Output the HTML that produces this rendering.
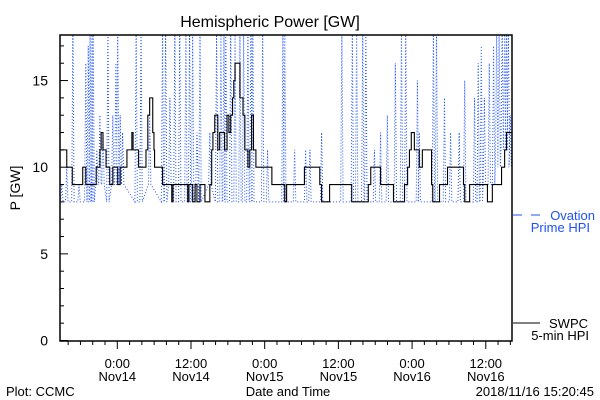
<!DOCTYPE html>
<html><head><meta charset="utf-8"><style>
body{margin:0;background:#fff}
svg{display:block;font-family:"Liberation Sans",sans-serif}
</style></head><body>
<svg id="chart" width="600" height="400" viewBox="0 0 600 400">
<text x="270" y="27" font-size="16" text-anchor="middle">Hemispheric Power [GW]</text>
<defs><clipPath id="pc"><rect x="60" y="35" width="452" height="306"/></clipPath></defs>
<g id="yaxis"></g>
<g id="xaxis"></g>
<g id="series" clip-path="url(#pc)"></g>
<rect x="60" y="35" width="452" height="306" fill="none" stroke="#000" stroke-width="1.5"/>
<text x="20" y="188" font-size="14" text-anchor="middle" transform="rotate(-90 20 188)">P [GW]</text>
<text x="288" y="396" font-size="13" text-anchor="middle">Date and Time</text>
<text x="6" y="396" font-size="13">Plot: CCMC</text>
<text x="594" y="396" font-size="13" text-anchor="end">2018/11/16 15:20:45</text>
<g>
<line x1="513" y1="215" x2="540" y2="215" stroke="#1e50ff" stroke-dasharray="9,9" stroke-width="1"/>
<text x="595" y="220" font-size="13" fill="#1e50ff" text-anchor="end">Ovation</text>
<text x="590" y="232" font-size="13" fill="#1e50ff" text-anchor="end">Prime HPI</text>
</g>
<g>
<line x1="513" y1="323" x2="540" y2="323" stroke="#000" stroke-width="1"/>
<text x="588" y="328" font-size="13" text-anchor="end">SWPC</text>
<text x="589" y="340" font-size="13" text-anchor="end">5-min HPI</text>
</g>
</svg>
<script>
// hours since 2018-11-13 14:40
const swpcT=[0,1.1,2.0,3.7,4.2,5.9,6.5,6.7,7.0,7.5,8.1,8.6,9.4,9.8,10.9,11.7,11.9,12.8,14.0,14.3,14.6,15.1,15.3,15.4,16.7,18.2,18.4,20.8,21.0,21.6,22.0,22.3,22.8,23.6,24.4,24.7,24.9,25.2,25.7,26.0,26.8,27.2,27.5,27.8,28.1,28.3,28.5,29.3,29.8,30.1,30.6,30.9,31.2,31.5,31.9,34.5,36.6,36.9,39.8,42.3,42.6,43.9,47.5,50.2,50.6,52.2,54.3,56.1,56.6,56.9,57.2,57.7,58.5,59.0,60.5,60.7,61.8,63.1,65.7,65.9,66.7,69.6,70.4,71.9,72.4,72.7];
const swpcV=[11,10,9,10,9,10,11,12,11,10,9,10,9,10,11,12,11,10,11,13,14,12,11,10,9,8,9,8,9,8,9,8,9,8,9,11,12,13,11,12,11,13,12,13,14,15,16,14,13,11,10,11,13,11,10,9,8,9,10,9,8,9,8,9,10,9,8,9,10,11,12,11,10,11,9,8,9,10,9,8,9,8,9,10,11,12,14];
const ovPeakT=[0.3,1.1,2.1,3.1,4.2,4.6,4.9,5.2,5.4,6.0,6.5,7.0,7.8,8.6,9.1,9.4,9.8,10.2,12.4,13.2,14.6,16.7,17.2,17.9,18.7,19.5,20.5,21.1,21.6,22.3,22.8,24.4,25.5,26.2,26.7,27.0,27.8,28.5,29.3,29.9,30.6,31.1,31.4,33.0,33.8,36.3,36.6,38.2,40.0,40.7,42.6,45.9,47.6,48.3,49.3,49.8,51.2,52.2,53.3,54.6,55.6,56.3,58.2,58.5,60.8,61.3,62.6,63.6,65.0,65.9,67.5,68.1,68.6,69.1,69.9,70.6,71.1,71.5,72.0,72.4,72.7,73.0,73.3];
const ovPeakV=[9,10,18,9,16,17,18,18,18,11,13,12,18,13,16,18,13,12,18,18,13,18,18,14,18,18,18,18,18,12,18,12,18,18,18,18,18,18,18,18,18,18,18,18,11,18,18,11,11,11,12,18,18,18,18,18,11,12,13,16,18,18,15,12,18,18,14,12,12,15,14,16,17,14,16,17,18,18,18,18,18,18,13];
const ovBase=[8,8,8,8,8,8,8,8,8,9,9,9,8,9,9,9,9,9,8,8,9,8,8,9,8,8,8,8,8,9,8,9,8,8,8,8,8,8,8,8,8,8,8,8,8,8,8,8,8,8,8,8,8,8,8,8,8,8,8,8,8,8,8,8,8,8,8,8,8,8,8,8,8,9,9,9,10,10,11,11,11,11,10];
const yTicks=[0,5,10,15];
const xTickLabels=[["0:00","Nov14"],["12:00","Nov14"],["0:00","Nov15"],["12:00","Nov15"],["0:00","Nov16"],["12:00","Nov16"]];
const xTickHours=[9.33,21.33,33.33,45.33,57.33,69.33];

const NS="http://www.w3.org/2000/svg";
const X=t=>60+t*(452/73.6);
const Y=v=>340.5-v*17.33;
function mk(tag,attrs,parent){const e=document.createElementNS(NS,tag);for(const k in attrs)e.setAttribute(k,attrs[k]);parent.appendChild(e);return e;}
const ya=document.getElementById('yaxis'),xa=document.getElementById('xaxis'),sg=document.getElementById('series');
for(let v=0;v<=17;v++){const l=mk('line',{x1:60,x2:v%5===0?68:64,y1:Y(v),y2:Y(v),stroke:'#000'},ya);

}
yTicks.forEach(v=>{const t=mk('text',{x:48,y:Y(v)+5,'font-size':14,'text-anchor':'end'},ya);t.textContent=v;

});
for(let h=xTickHours[0]-8;h<73.6;h+=2){if(h<0)continue;const major=xTickHours.some(m=>Math.abs(m-h)<0.01);
const l=mk('line',{x1:X(h),x2:X(h),y1:341,y2:major?349:345,stroke:'#000'},xa);

}
xTickHours.forEach((h,i)=>{const t=mk('text',{x:X(h),y:368,'font-size':13,'text-anchor':'middle'},xa);t.textContent=xTickLabels[i][0];


const d=mk('text',{x:X(h),y:381,'font-size':13,'text-anchor':'middle'},xa);d.textContent=xTickLabels[i][1];

});
let op=[];ovPeakT.forEach((t,i)=>{op.push(X(t-0.2)+','+Y(ovBase[i]));op.push(X(t)+','+Y(ovPeakV[i]));op.push(X(t+0.2)+','+Y(ovBase[i]));});
const ov=mk('polyline',{points:op.join(' '),fill:'none',stroke:'#1e50ff','stroke-width':1,'stroke-dasharray':'1,2'},sg);


let sp=[];swpcT.forEach((t,i)=>{const nt=i<swpcT.length-1?swpcT[i+1]:73.6;sp.push(X(t)+','+Y(swpcV[i]));sp.push(X(nt)+','+Y(swpcV[i]));});
const sw=mk('polyline',{points:sp.join(' '),fill:'none',stroke:'#000','stroke-width':1.1},sg);


</script>
</body></html>
